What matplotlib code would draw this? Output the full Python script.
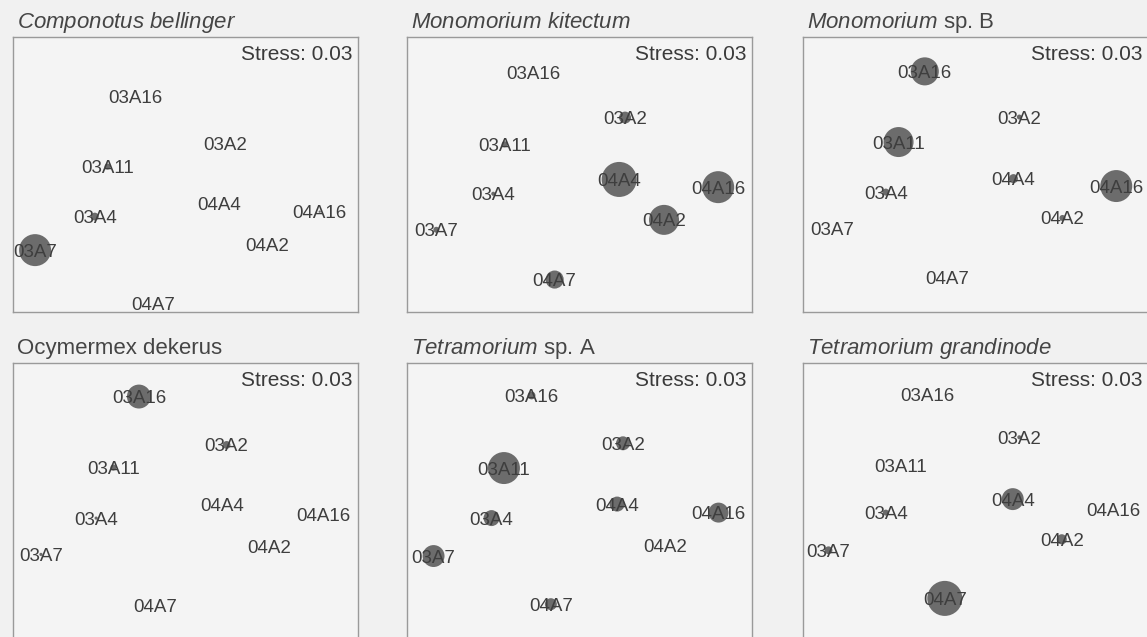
import matplotlib
matplotlib.use("Agg")
from matplotlib import pyplot as plt

plt.rcParams['font.family'] = ['Liberation Sans', 'DejaVu Sans']
plt.rcParams['mathtext.fontset'] = 'custom'
plt.rcParams['mathtext.rm'] = 'Liberation Sans'
plt.rcParams['mathtext.it'] = 'Liberation Sans:italic'

# site labels, same order in every panel
sites = ["03A16", "03A2", "03A11", "03A4", "03A7", "04A4", "04A16", "04A2", "04A7"]

# panel titles (mathtext for the mixed italic / upright names)
titles = [r"$\it{Componotus\ bellinger}$",
          r"$\it{Monomorium\ kitectum}$",
          r"$\it{Monomorium}$ sp. B",
          "Ocymermex dekerus",
          r"$\it{Tetramorium}$ sp. A",
          r"$\it{Tetramorium\ grandinode}$"]
stress = [0.03, 0.03, 0.03, 0.03, 0.03, 0.03]

# MDS configuration (scaled 0-1 inside the box)
cb_x = [0.354, 0.614, 0.274, 0.237, 0.064, 0.598, 0.889, 0.738, 0.407]
cb_y = [0.785, 0.612, 0.529, 0.347, 0.225, 0.393, 0.365, 0.246, 0.030]
cb_n = [0, 0, 3.5, 6, 100, 0, 0.5, 0, 0]

mk_x = [0.366, 0.632, 0.283, 0.250, 0.085, 0.615, 0.902, 0.745, 0.428]
mk_y = [0.870, 0.707, 0.610, 0.430, 0.299, 0.482, 0.454, 0.335, 0.118]
mk_n = [0, 14, 3.5, 1.6, 3.5, 120, 100, 88, 32]

mb_x = [0.353, 0.627, 0.277, 0.240, 0.086, 0.610, 0.908, 0.752, 0.417]
mb_y = [0.875, 0.709, 0.618, 0.436, 0.303, 0.485, 0.458, 0.342, 0.124]
mb_n = [77, 2.4, 88, 4.8, 0, 8, 100, 3.5, 0]

od_x = [0.365, 0.619, 0.291, 0.241, 0.081, 0.607, 0.901, 0.744, 0.412]
od_y = [0.878, 0.702, 0.620, 0.436, 0.304, 0.484, 0.450, 0.331, 0.119]
od_n = [56, 6, 3.5, 1, 1, 0, 0, 0, 0]

ta_x = [0.361, 0.626, 0.281, 0.245, 0.077, 0.609, 0.903, 0.749, 0.417]
ta_y = [0.882, 0.708, 0.618, 0.436, 0.298, 0.487, 0.456, 0.338, 0.123]
ta_n = [6, 19, 100, 25, 47, 22, 39, 0, 14]

tg_x = [0.360, 0.627, 0.282, 0.240, 0.074, 0.608, 0.901, 0.750, 0.411]
tg_y = [0.886, 0.730, 0.627, 0.456, 0.319, 0.505, 0.468, 0.359, 0.144]
tg_n = [0, 1.6, 0, 3.5, 6, 47, 0, 10, 120]

xs = [cb_x, mk_x, mb_x, od_x, ta_x, tg_x]
ys = [cb_y, mk_y, mb_y, od_y, ta_y, tg_y]
ns = [cb_n, mk_n, mb_n, od_n, ta_n, tg_n]

W, H = 1147, 637
fig = plt.figure(figsize=(W / 100, H / 100), dpi=100, facecolor='#f1f1f1')

lefts = [13, 407, 803]
tops = [37, 363]
bw, bh = 345, 275

for i in range(6):
    r, c = divmod(i, 3)
    ax = fig.add_axes([lefts[c] / W, 1 - (tops[r] + bh) / H, bw / W, bh / H])
    ax.set_facecolor('#f4f4f4')
    ax.set_xlim(0, 1)
    ax.set_ylim(0, 1)
    ax.set_xticks([])
    ax.set_yticks([])
    for sp in ax.spines.values():
        sp.set_color('#9a9a9a')
        sp.set_linewidth(1.0)

    # bubbles: area ~ abundance
    ax.scatter(xs[i], ys[i], s=[v * 5.3 for v in ns[i]], color='#6c6c6c',
               edgecolors='none', zorder=2, clip_on=False)
    for lab, x, y in zip(sites, xs[i], ys[i]):
        ax.text(x, y, lab, ha='center', va='center_baseline', fontsize=13.5,
                color='#3e3e3e', zorder=3)

    ax.annotate("Stress: %.2f" % stress[i], xy=(1, 1), xycoords='axes fraction',
                xytext=(-4, -6), textcoords='offset points', ha='right', va='top',
                fontsize=15, color='#3a3a3a')

    ax.annotate(titles[i], xy=(0, 1), xycoords='axes fraction',
                xytext=(3, 6.5), textcoords='offset points', ha='left', va='baseline',
                fontsize=16, color='#454545', annotation_clip=False)

fig.savefig("out.png", dpi=100, facecolor=fig.get_facecolor())
